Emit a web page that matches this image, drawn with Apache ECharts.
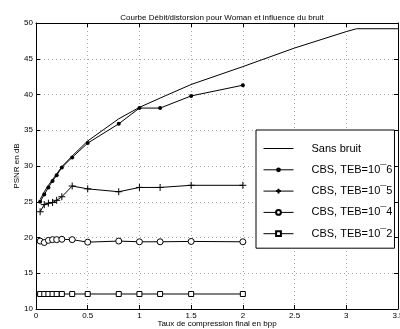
<!DOCTYPE html>
<html>
<head>
<meta charset="utf-8">
<script src="https://cdn.jsdelivr.net/npm/echarts@6/dist/echarts.min.js"></script>
<style>
  html, body { margin: 0; padding: 0; background: #fff; }
  #chart { width: 400px; height: 329px; }
</style>
</head>
<body>
<div id="chart"></div>
<script>
// values
const rateRef = [0.04, 0.08, 0.12, 0.16, 0.2, 0.25, 0.35, 0.5, 0.8, 1, 1.2, 1.5, 2, 2.5, 3, 3.1, 3.5];
const psnrRef = [25.3, 26.4, 27.3, 28.1, 28.9, 29.9, 31.4, 33.5, 36.6, 38.2, 39.5, 41.4, 43.9, 46.5, 48.8, 49.2, 49.2];

const rateCbs = [0.04, 0.08, 0.12, 0.16, 0.2, 0.25, 0.35, 0.5, 0.8, 1, 1.2, 1.5, 2];
const psnrTeb6 = [25.0, 26.0, 27.0, 27.9, 28.7, 29.8, 31.2, 33.2, 35.9, 38.1, 38.1, 39.8, 41.3];
const psnrTeb5 = [23.6, 24.6, 24.8, 24.9, 25.2, 25.7, 27.2, 26.8, 26.4, 27.0, 27.0, 27.3, 27.3];
const psnrTeb4 = [19.5, 19.3, 19.6, 19.7, 19.7, 19.75, 19.7, 19.35, 19.5, 19.4, 19.4, 19.45, 19.4];
const psnrTeb2 = [12.1, 12.1, 12.1, 12.1, 12.1, 12.1, 12.1, 12.1, 12.1, 12.1, 12.1, 12.1, 12.1];

const seriesNames = ['Sans bruit', 'CBS, TEB=10¯6', 'CBS, TEB=10¯5', 'CBS, TEB=10¯4', 'CBS, TEB=10¯2'];

const font = '"Liberation Sans", Arial, sans-serif';
const pairs = (xs, ys) => xs.map((x, i) => [x, ys[i]]);

const gridLine = { show: true, lineStyle: { color: '#aaa', type: [1, 3], width: 1 } };
const frameLine = { show: true, onZero: false, lineStyle: { color: '#000', width: 1 } };
const innerTick = { show: true, inside: true, length: 4, lineStyle: { color: '#000' } };

const lineBase = {
  type: 'line',
  lineStyle: { color: '#000', width: 1 },
  emphasis: { disabled: true },
  animation: false
};

const chart = echarts.init(document.getElementById('chart'));
chart.setOption({
  backgroundColor: '#fff',
  textStyle: { fontFamily: font },
  title: {
    text: 'Courbe Débit/distorsion pour Woman et influence du bruit',
    left: 217, top: 9, textAlign: 'center',
    textStyle: { fontSize: 8, fontWeight: 'normal', color: '#000', fontFamily: font }
  },
  grid: { left: 36, right: 2, top: 23, bottom: 20, containLabel: false, outerBoundsMode: 'none' },
  legend: {
    orient: 'vertical',
    left: 256, top: 130,
    padding: [13, 2, 9, 7],
    itemGap: 10.3,
    itemWidth: 30, itemHeight: 6,
    backgroundColor: '#fff',
    borderColor: '#000', borderWidth: 1,
    lineStyle: { width: 1 },
    textStyle: { fontSize: 11, color: '#000', fontFamily: font, padding: [0, 0, 0, 13] },
    data: [
      { name: seriesNames[0], itemStyle: { opacity: 0 } },
      seriesNames[1], seriesNames[2], seriesNames[3], seriesNames[4]
    ]
  },
  xAxis: [{
    type: 'value', min: 0, max: 3.5, interval: 0.5,
    name: 'Taux de compression final en bpp',
    nameLocation: 'middle', nameGap: 11, nameMoveOverlap: false,
    nameTextStyle: { fontSize: 8, color: '#000', fontFamily: font },
    axisLine: frameLine, axisTick: innerTick, splitLine: gridLine,
    axisLabel: { fontSize: 8, color: '#000', margin: 3, fontFamily: font }
  }, {
    type: 'value', min: 0, max: 3.5, interval: 0.5, position: 'top',
    axisLine: frameLine, axisTick: innerTick, splitLine: { show: false },
    axisLabel: { show: false }
  }],
  yAxis: [{
    type: 'value', min: 10, max: 50, interval: 5,
    name: 'PSNR en dB',
    nameLocation: 'middle', nameGap: 15, nameRotate: 90, nameMoveOverlap: false,
    nameTextStyle: { fontSize: 8, color: '#000', fontFamily: font },
    axisLine: frameLine, axisTick: innerTick, splitLine: gridLine,
    axisLabel: { fontSize: 8, color: '#000', margin: 3, fontFamily: font }
  }, {
    type: 'value', min: 10, max: 50, interval: 5, position: 'right',
    axisLine: frameLine, axisTick: innerTick, splitLine: { show: false },
    axisLabel: { show: false }
  }],
  series: [
    Object.assign({}, lineBase, {
      name: seriesNames[0],
      data: pairs(rateRef, psnrRef),
      showSymbol: false, symbol: 'none',
      itemStyle: { color: '#000' }
    }),
    Object.assign({}, lineBase, {
      name: seriesNames[1],
      data: pairs(rateCbs, psnrTeb6),
      symbol: 'circle', symbolSize: 4,
      itemStyle: { color: '#000' }
    }),
    Object.assign({}, lineBase, {
      name: seriesNames[2],
      data: pairs(rateCbs, psnrTeb5),
      symbol: 'path://M0,5 L10,5 M5,0 L5,10', symbolSize: 7,
      itemStyle: { color: 'none', borderColor: '#000', borderWidth: 1 }
    }),
    Object.assign({}, lineBase, {
      name: seriesNames[3],
      data: pairs(rateCbs, psnrTeb4),
      symbol: 'circle', symbolSize: 6,
      itemStyle: { color: '#fff', borderColor: '#000', borderWidth: 1 }
    }),
    Object.assign({}, lineBase, {
      name: seriesNames[4],
      data: pairs(rateCbs, psnrTeb2),
      symbol: 'rect', symbolSize: 5,
      itemStyle: { color: '#fff', borderColor: '#000', borderWidth: 1 }
    })
  ]
});
</script>
</body>
</html>
